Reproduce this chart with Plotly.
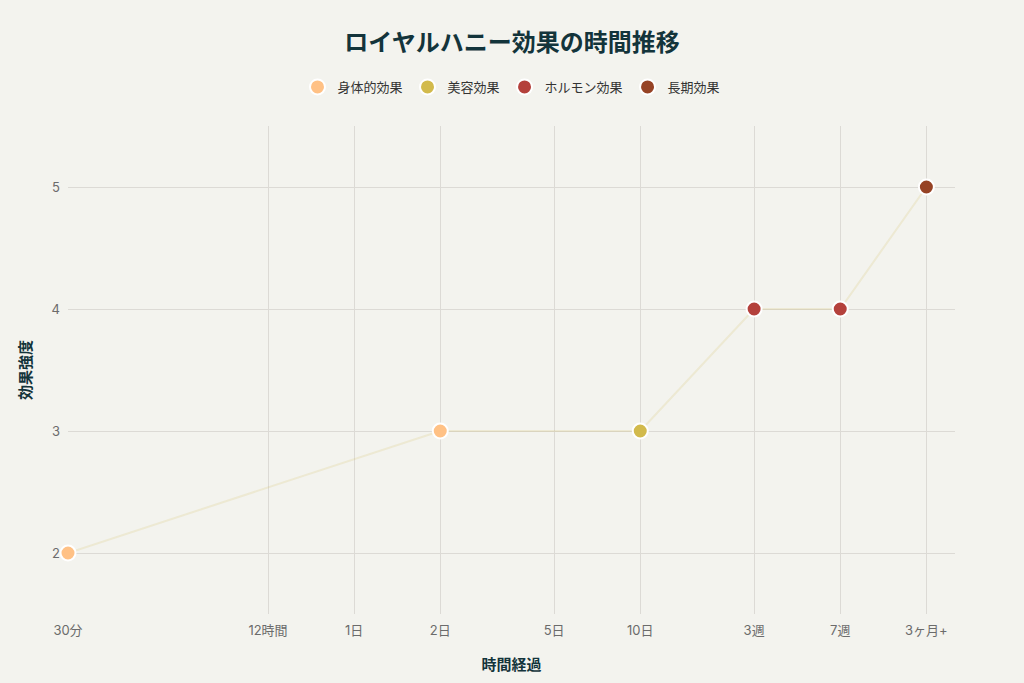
import plotly.graph_objects as go

# Data
tick_days = [0.1, 0.5, 1, 2, 5, 10, 25, 50, 100]
tick_labels = ["30分", "12時間", "1日", "2日", "5日", "10日", "3週", "7週", "3ヶ月+"]

point_days = [0.1, 2, 10, 25, 50, 100]
point_strength = [2, 3, 3, 4, 4, 5]
point_category = ["身体的効果", "身体的効果", "美容効果", "ホルモン効果", "ホルモン効果", "長期効果"]

categories = ["身体的効果", "美容効果", "ホルモン効果", "長期効果"]
colors = ["#FFC185", "#D2BA4C", "#B4413C", "#964325"]

FONT = "Inter, 'Noto Sans CJK JP', sans-serif"

fig = go.Figure()

fig.add_trace(go.Scatter(
    x=point_days, y=point_strength, mode="lines",
    line=dict(color="rgba(210,186,76,0.17)", width=2),
    showlegend=False, hoverinfo="skip",
))

for cat, col in zip(categories, colors):
    xs = [d for d, c in zip(point_days, point_category) if c == cat]
    ys = [s for s, c in zip(point_strength, point_category) if c == cat]
    fig.add_trace(go.Scatter(
        x=xs, y=ys, mode="markers", name=cat,
        marker=dict(color=col, size=15, line=dict(color="white", width=2)),
        cliponaxis=False,
    ))

fig.update_layout(
    width=1024, height=683,
    paper_bgcolor="#F3F3EE", plot_bgcolor="#F3F3EE",
    font=dict(family=FONT, color="#13343B", size=13),
    title=dict(text="<b>ロイヤルハニー効果の時間推移</b>", x=0.5, xanchor="center",
               y=0.938, yanchor="middle", font=dict(size=24, color="#13343B")),
    legend=dict(orientation="h", x=0.5, xanchor="center", y=1.08, yanchor="middle",
                font=dict(size=13, color="#333333"), bgcolor="rgba(0,0,0,0)"),
    margin=dict(l=68, r=69, t=126, b=69),
    xaxis=dict(
        type="log", range=[-1, 2.1],
        tickmode="array", tickvals=tick_days, ticktext=tick_labels,
        showgrid=True, gridcolor="#DCDAD5", gridwidth=1,
        zeroline=False, showline=False,
        ticklabelstandoff=7,
        tickfont=dict(size=13, color="#6B6B6B"),
        title=dict(text="<b>時間経過</b>", font=dict(size=15, color="#13343B"), standoff=22),
    ),
    yaxis=dict(
        range=[1.5, 5.5], tickvals=[2, 3, 4, 5],
        showgrid=True, gridcolor="#DCDAD5", gridwidth=1,
        zeroline=False, showline=False,
        ticklabelstandoff=7,
        tickfont=dict(size=13, color="#6B6B6B"),
        title=dict(text="<b>効果強度</b>", font=dict(size=15, color="#13343B"), standoff=16),
    ),
)

fig.write_html("out.html", config={"displayModeBar": False},
               post_script="document.body.style.margin='0';")
